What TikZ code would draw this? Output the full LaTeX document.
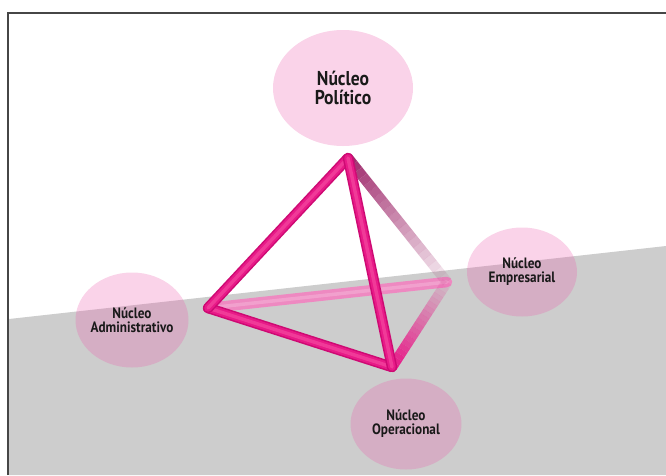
\documentclass[tikz,border=0pt]{standalone}
\usepackage{fontspec}
\newfontfamily\nucfont{PT Sans Bold}[FakeStretch=0.88]
\usetikzlibrary{shapes.geometric,calc}

\definecolor{floorgray}{RGB}{205,205,205}
\definecolor{framegray}{RGB}{70,70,70}
\definecolor{nucpink}{RGB}{235,94,172}
\definecolor{tubeedge}{RGB}{205,10,115}
\definecolor{tubepink}{RGB}{232,26,136}
\definecolor{tubelight}{RGB}{240,58,152}
\definecolor{tubeback}{RGB}{242,130,192}
\definecolor{tubedark}{RGB}{160,45,110}

\begin{document}
\begin{tikzpicture}[x=1pt,y=-1pt]

                \tikzset{nucleo/.style = {shape=ellipse,fill=nucpink,fill opacity=0.27,text opacity=1,
                        text=black!90,align=center,inner sep=-14pt,font=\nucfont\fontsize{15}{14}\selectfont}}
                \tikzset{tube/.style = {line width=10.5pt,color=tubeedge,line cap=round}}
                \tikzset{tubemid/.style = {line width=7.5pt,color=tubepink,line cap=round}}
                \tikzset{tubehi/.style = {line width=3.5pt,color=tubelight,line cap=round}}

                \useasboundingbox (0,0) rectangle (666,475);
                \fill[floorgray] (9,319) -- (666,246) -- (666,475) -- (9,475) -- cycle;
                \draw[framegray,line width=1.2] (8,475) -- (8,13) -- (666,13);

                \node[nucleo,minimum width=140,minimum height=116,font=\nucfont\fontsize{20}{19.5}\selectfont] (polit) at (343,88) {Núcleo\\Político};
                \node[nucleo,minimum width=113,minimum height=95] (admin) at (132,320) {Núcleo\\Administrativo};
                \node[nucleo,minimum width=110,minimum height=89] (empre) at (522,272) {Núcleo\\Empresarial};
                \node[nucleo,minimum width=111,minimum height=91] (opera) at (406,424) {Núcleo\\Operacional};

                \coordinate (top) at (348,158);
                \coordinate (lft) at (208,308);
                \coordinate (bot) at (392,367);
                \coordinate (rgt) at (447,282);

                % back edges
                \draw[tube,color=tubeback,opacity=0.9] (lft) to (rgt);
                \draw[tubehi,color=white,opacity=0.2] (lft) to (rgt);
                \foreach \i in {0,...,19}{
                        \pgfmathsetmacro\ta{\i/20}
                        \pgfmathsetmacro\tb{(\i+1)/20}
                        \pgfmathsetmacro\op{1-0.9*\i/19}
                        \draw[line width=10.5pt,color=tubedark,opacity=\op] ($(top)!\ta!(rgt)$) to ($(top)!\tb!(rgt)$);
                        \draw[line width=10.5pt,color=tubepink,opacity=\op] ($(bot)!\ta!(rgt)$) to ($(bot)!\tb!(rgt)$);
                }

                % front edges
                \foreach \a/\b in {lft/bot,top/lft,top/bot}{
                        \draw[tube] (\a) to (\b);
                        \draw[tubemid] (\a) to (\b);
                        \draw[tubehi] (\a) to (\b);
                }

\end{tikzpicture}
\end{document}
